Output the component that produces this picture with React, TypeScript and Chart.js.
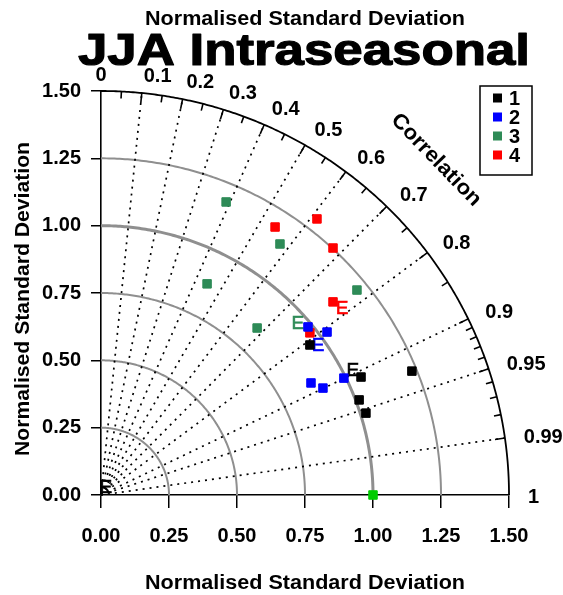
import React, { useEffect, useRef } from 'react';
import { Chart, registerables } from 'chart.js';
Chart.register(...registerables);

const FONT = '"Liberation Sans", Arial, Helvetica, sans-serif';

// ---- data ----
const seriesNames = ['1', '2', '3', '4'];
const seriesColors = ['#000000', '#0000ff', '#2e8b57', '#ff0000'];
const s1X = [0.768, 0.956, 0.949, 0.974, 1.143];
const s1Y = [0.557, 0.438, 0.353, 0.304, 0.46];
const s2X = [0.761, 0.831, 0.893, 0.772, 0.816];
const s2Y = [0.624, 0.605, 0.434, 0.416, 0.397];
const s3X = [0.46, 0.658, 0.39, 0.574, 0.941];
const s3Y = [1.088, 0.932, 0.784, 0.62, 0.761];
const s4X = [0.64, 0.794, 0.853, 0.853, 0.768];
const s4Y = [0.995, 1.025, 0.917, 0.717, 0.602];
const refX = [1.0];
const refY = [0.0];
const refColor = '#00cc00';

const eLabelX = [0.018, 0.724, 0.798, 0.886, 0.926];
const eLabelY = [0.03, 0.639, 0.557, 0.694, 0.464];
const eLabelColors = ['#000000', '#2e8b57', '#0000ff', '#ff0000', '#000000'];

const corrMajor = [0, 0.1, 0.2, 0.3, 0.4, 0.5, 0.6, 0.7, 0.8, 0.9, 0.95, 0.99, 1];
const corrLabels = ['0', '0.1', '0.2', '0.3', '0.4', '0.5', '0.6', '0.7', '0.8', '0.9', '0.95', '0.99', '1'];
const corrMinor = [0.05, 0.15, 0.25, 0.35, 0.45, 0.55, 0.65, 0.75, 0.85, 0.91, 0.92, 0.93, 0.94, 0.96, 0.97, 0.98];
const stdArcs = [0.25, 0.5, 0.75, 1.0, 1.25];
const stdMax = 1.5;

const titleText = 'JJA Intraseasonal';
const axisTitle = 'Normalised Standard Deviation';
const corrTitle = 'Correlation';

function mk(xs: number[], ys: number[]) {
  return xs.map((v, i) => ({ x: v, y: ys[i] }));
}

function fitText(ctx: CanvasRenderingContext2D, text: string, cx: number, cy: number, font: string, width: number, rot = 0, stroke = 0) {
  ctx.save();
  ctx.font = font;
  const w = ctx.measureText(text).width;
  ctx.translate(cx, cy);
  ctx.rotate(rot);
  ctx.scale(width / w, 1);
  ctx.textAlign = 'center';
  ctx.textBaseline = 'alphabetic';
  ctx.fillStyle = '#000';
  ctx.fillText(text, 0, 0);
  if (stroke > 0) {
    ctx.lineWidth = stroke;
    ctx.strokeStyle = '#000';
    ctx.lineJoin = 'round';
    ctx.strokeText(text, 0, 0);
  }
  ctx.restore();
}

const taylorPlugin = {
  id: 'taylor',
  beforeDatasetsDraw(chart: any) {
    const { ctx, scales } = chart;
    const xs = scales.x;
    const ys = scales.y;
    const P = (r: number, th: number) => [xs.getPixelForValue(r * Math.cos(th)), ys.getPixelForValue(r * Math.sin(th))];
    ctx.save();
    // std dev arcs
    for (const r of stdArcs) {
      ctx.beginPath();
      for (let i = 0; i <= 200; i++) {
        const th = (i / 200) * Math.PI / 2;
        const [a, b] = P(r, th);
        if (i === 0) ctx.moveTo(a, b); else ctx.lineTo(a, b);
      }
      ctx.strokeStyle = '#8f8f8f';
      ctx.lineWidth = r === 1 ? 3 : 2;
      ctx.stroke();
    }
    // dotted correlation rays
    ctx.setLineDash([2, 5]);
    ctx.lineWidth = 1.7;
    ctx.strokeStyle = '#000';
    for (const c of corrMajor) {
      if (c <= 0 || c >= 1) continue;
      const th = Math.acos(c);
      const [a0, b0] = P(0, th);
      const [a1, b1] = P(stdMax, th);
      ctx.beginPath();
      ctx.moveTo(a0, b0);
      ctx.lineTo(a1, b1);
      ctx.stroke();
    }
    ctx.setLineDash([]);
    // outer arc
    ctx.beginPath();
    for (let i = 0; i <= 300; i++) {
      const th = (i / 300) * Math.PI / 2;
      const [a, b] = P(stdMax, th);
      if (i === 0) ctx.moveTo(a, b); else ctx.lineTo(a, b);
    }
    ctx.lineWidth = 1.8;
    ctx.stroke();
    // ticks on outer arc
    const tick = (c: number, len: number) => {
      const th = Math.acos(c);
      const [a, b] = P(stdMax, th);
      ctx.beginPath();
      ctx.moveTo(a, b);
      ctx.lineTo(a - len * Math.cos(th), b + len * Math.sin(th));
      ctx.stroke();
    };
    ctx.lineWidth = 1.6;
    for (const c of corrMajor) if (c > 0 && c < 1) tick(c, 10);
    for (const c of corrMinor) tick(c, 7);
    // correlation labels
    ctx.font = `bold 20px ${FONT}`;
    ctx.fillStyle = '#000';
    ctx.textBaseline = 'middle';
    corrMajor.forEach((c, i) => {
      const th = Math.acos(c);
      if (i === 0) {
        const [a, b] = P(1.56, th);
        ctx.textAlign = 'center';
        ctx.fillText(corrLabels[i], a, b + 1);
      } else {
        const [a, b] = P(1.57, th);
        ctx.textAlign = 'left';
        ctx.fillText(corrLabels[i], a, b + 2);
      }
    });
    // "Correlation" title
    ctx.save();
    ctx.translate(436, 160);
    ctx.rotate((46 * Math.PI) / 180);
    ctx.font = `bold 21px ${FONT}`;
    ctx.textAlign = 'center';
    ctx.textBaseline = 'middle';
    const cw = ctx.measureText(corrTitle).width;
    ctx.scale(120 / cw, 1);
    ctx.fillText(corrTitle, 0, 0);
    ctx.restore();
    // E labels
    ctx.font = `19px ${FONT}`;
    ctx.textAlign = 'center';
    ctx.textBaseline = 'middle';
    ctx.lineWidth = 0.6;
    eLabelX.forEach((v, i) => {
      ctx.fillStyle = eLabelColors[i];
      ctx.strokeStyle = eLabelColors[i];
      const a = xs.getPixelForValue(v);
      const b = ys.getPixelForValue(eLabelY[i]) + 1;
      ctx.fillText('E', a, b);
      ctx.strokeText('E', a, b);
    });
    ctx.restore();
  },
  afterDraw(chart: any) {
    const { ctx } = chart;
    ctx.save();
    fitText(ctx, axisTitle, 305, 25, `bold 20px ${FONT}`, 320);
    fitText(ctx, titleText, 304, 65, `bold 45px ${FONT}`, 452, 0, 1.2);
    fitText(ctx, axisTitle, 305, 589, `bold 20px ${FONT}`, 320);
    fitText(ctx, axisTitle, 29, 299, `bold 20px ${FONT}`, 314, -Math.PI / 2);
    // legend
    const bx = 480, by = 86, bw = 52, bh = 89;
    ctx.lineWidth = 1.5;
    ctx.strokeStyle = '#000';
    ctx.strokeRect(bx, by, bw, bh);
    ctx.font = `bold 20px ${FONT}`;
    ctx.textAlign = 'left';
    ctx.textBaseline = 'middle';
    seriesNames.forEach((n, i) => {
      const yy = by + 12 + i * 19;
      ctx.fillStyle = seriesColors[i];
      ctx.fillRect(bx + 13, yy - 4.5, 9, 9);
      ctx.fillStyle = '#000';
      ctx.fillText(n, bx + 29, yy + 1);
    });
    ctx.restore();
  },
};

export default function App() {
  const ref = useRef<HTMLCanvasElement | null>(null);
  useEffect(() => {
    if (!ref.current) return;
    const ds = (label: string, xs: number[], ys: number[], color: string) => ({
      label,
      data: mk(xs, ys),
      pointStyle: 'rect',
      pointRadius: 6,
      backgroundColor: color,
      borderColor: color,
      borderWidth: 1,
      showLine: false,
      clip: false,
    });
    const chart = new Chart(ref.current, {
      type: 'scatter',
      data: {
        datasets: [
          ds(seriesNames[0], s1X, s1Y, seriesColors[0]),
          ds(seriesNames[1], s2X, s2Y, seriesColors[1]),
          ds(seriesNames[2], s3X, s3Y, seriesColors[2]),
          ds(seriesNames[3], s4X, s4Y, seriesColors[3]),
          ds('ref', refX, refY, refColor),
        ],
      },
      options: {
        responsive: false,
        animation: false,
        layout: { padding: { left: 1, top: 91, right: 54, bottom: 0 } },
        plugins: { legend: { display: false }, tooltip: { enabled: false }, title: { display: false } },
        scales: {
          x: {
            type: 'linear',
            min: 0,
            max: 1.5,
            afterFit: (s: any) => { s.height = 100; },
            ticks: {
              stepSize: 0.25,
              color: '#000',
              font: { family: FONT, size: 20, weight: 'bold' },
              padding: 16,
              maxRotation: 0,
              callback: (v: any) => Number(v).toFixed(2),
            },
            grid: { drawOnChartArea: false, drawTicks: true, tickLength: 13, color: '#000', lineWidth: 1.5 },
            border: { display: true, color: '#000', width: 1.6 },
          },
          y: {
            type: 'linear',
            min: 0,
            max: 1.5,
            afterFit: (s: any) => { s.width = 100; },
            ticks: {
              stepSize: 0.25,
              color: '#000',
              font: { family: FONT, size: 20, weight: 'bold' },
              padding: 10,
              callback: (v: any) => Number(v).toFixed(2),
            },
            grid: { drawOnChartArea: false, drawTicks: true, tickLength: 10, color: '#000', lineWidth: 1.5 },
            border: { display: true, color: '#000', width: 1.6 },
          },
        },
      },
      plugins: [taylorPlugin],
    } as any);
    return () => chart.destroy();
  }, []);
  return (
    <div style={{ position: 'fixed', left: 0, top: 0, width: 563, height: 595, background: '#fff' }}>
      <canvas ref={ref} width={563} height={595} style={{ display: 'block' }} />
    </div>
  );
}
